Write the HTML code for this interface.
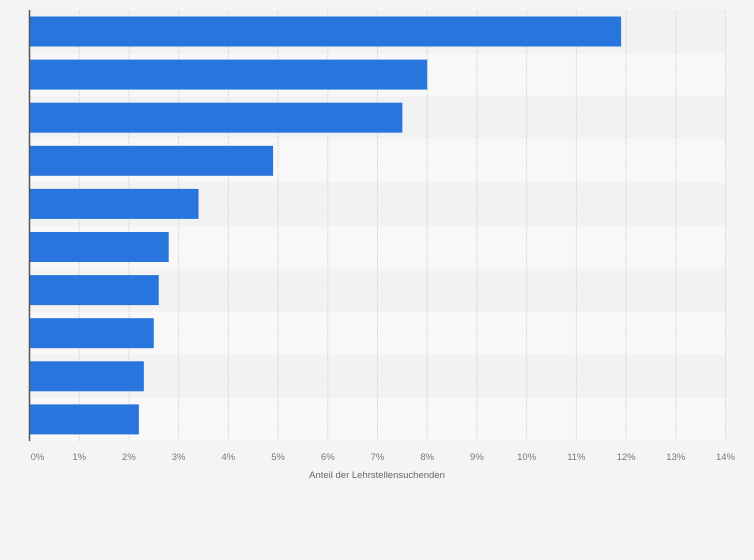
<!DOCTYPE html>
<html><head><meta charset="utf-8"><style>
body{margin:0;background:#f4f4f4;font-family:"Liberation Sans",sans-serif}
svg{display:block}
</style></head><body>
<svg id="chart" width="754" height="560" xmlns="http://www.w3.org/2000/svg">
<rect width="754" height="560" fill="#f4f4f4"/>
<g id="rows"></g><g id="grid"></g><g id="bars"></g><g id="ticks"></g>
<line x1="29.5" y1="10" x2="29.5" y2="441" stroke="#555" stroke-width="1.5"/>
<text x="377" y="478" text-anchor="middle" font-size="9.5" fill="#666">Anteil der Lehrstellensuchenden</text>
</svg>
<script>
const categories=["K1","K2","K3","K4","K5","K6","K7","K8","K9","K10"];
const values=[11.9,8.0,7.5,4.9,3.4,2.8,2.6,2.5,2.3,2.2];
const tickValues=[0,1,2,3,4,5,6,7,8,9,10,11,12,13,14];
const tickLabels=["0%","1%","2%","3%","4%","5%","6%","7%","8%","9%","10%","11%","12%","13%","14%"];
const NS="http://www.w3.org/2000/svg";
const x0=29.5,xMax=14,pw=696,plotTop=10,plotBottom=441;
const xs=v=>x0+v/xMax*pw;
const rowH=(plotBottom-plotTop)/categories.length;
const ys=i=>plotTop+i*rowH;
function mk(t,a,p){const e=document.createElementNS(NS,t);for(const k in a)e.setAttribute(k,a[k]);p.appendChild(e);return e;}
const rowsG=document.getElementById('rows'),gridG=document.getElementById('grid'),barsG=document.getElementById('bars'),ticksG=document.getElementById('ticks');
categories.forEach((c,i)=>{
 const r=mk('rect',{x:x0,y:ys(i),width:pw,height:rowH,fill:i%2?'#f8f8f8':'#f2f2f2'},rowsG);
 
 
});
tickValues.forEach((v,i)=>{
 if(v>0){const l=mk('line',{x1:xs(v),y1:plotTop,x2:xs(v),y2:plotBottom,stroke:'#d8d8d8','stroke-dasharray':'2,1'},gridG);
 
 }
 const t=mk('text',{x:xs(v)+(v===0?8:0),y:460,'text-anchor':'middle','font-size':'9.5',fill:'#777'},ticksG);
 t.textContent=tickLabels[i];
 
 
});
values.forEach((v,i)=>{
 const b=mk('rect',{x:x0+0.5,y:ys(i)+6.5,width:xs(v)-x0-0.5,height:30,fill:'#2876dd'},barsG);
 
 
});
</script>
</body></html>
